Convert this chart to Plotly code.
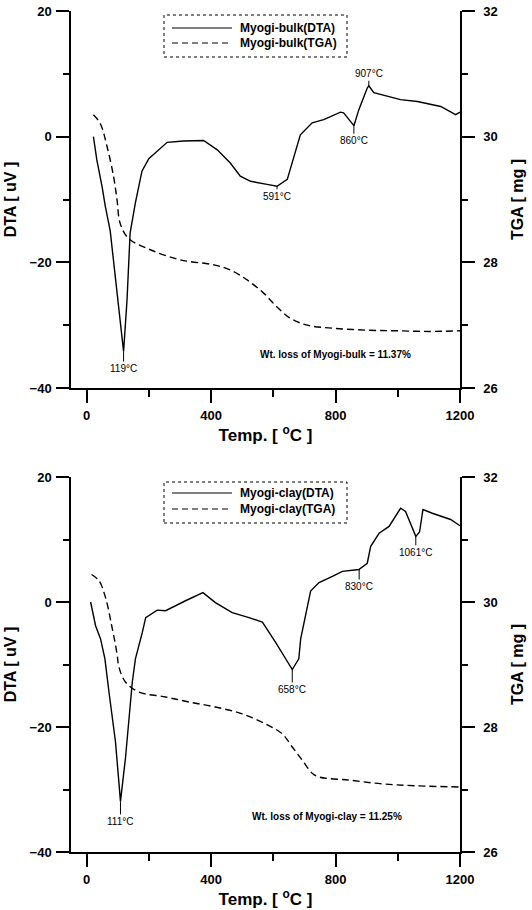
import plotly.graph_objects as go
from plotly.subplots import make_subplots

# ---------------- data ----------------
bulk_dta_T = [22, 33, 50, 60, 76, 98, 110, 119, 130, 140, 157, 178, 200, 226, 259, 312, 376, 420, 462, 494, 527, 580, 612, 645, 687, 725, 762, 816, 826, 859, 875, 902, 907, 923, 1009, 1063, 1106, 1138, 1186, 1200]
bulk_dta_v = [0, -3.7, -8, -11, -15, -24.9, -30, -34.2, -26, -15.3, -10.5, -5.5, -3.5, -2.3, -0.9, -0.7, -0.6, -2.1, -4.2, -6.3, -7.1, -7.6, -7.9, -6.8, 0.3, 2.2, 2.7, 3.9, 3.8, 1.75, 4.3, 7.75, 8.1, 7.0, 5.9, 5.6, 5.1, 4.8, 3.5, 3.9]

bulk_tga_T = [22, 44, 66, 87, 98, 108, 135, 205, 301, 409, 462, 516, 569, 612, 655, 709, 795, 902, 1000, 1100, 1200]
bulk_tga_m = [30.35, 30.21, 29.84, 29.36, 28.99, 28.62, 28.38, 28.2, 28.04, 27.96, 27.88, 27.72, 27.51, 27.29, 27.11, 27.0, 26.95, 26.92, 26.91, 26.9, 26.91]

clay_dta_T = [13, 29, 45, 59, 72, 93, 109, 125, 147, 157, 179, 190, 227, 254, 318, 374, 414, 468, 522, 565, 608, 640, 661, 682, 688, 720, 747, 790, 822, 875, 902, 913, 940, 972, 1009, 1025, 1058, 1070, 1081, 1111, 1143, 1170, 1194, 1200]
clay_dta_v = [0, -3.8, -5.9, -9.1, -14.4, -22.4, -31.9, -25, -12.8, -9.1, -4.9, -2.5, -1.3, -1.4, 0.2, 1.5, -0.1, -1.7, -2.5, -3.2, -6.5, -9, -10.8, -9.1, -5.9, 1.75, 3.1, 4.1, 4.9, 5.2, 6.2, 8.9, 11, 12.1, 15, 14.5, 10.5, 11.2, 14.8, 14.2, 13.6, 13.2, 12.4, 12.2]

clay_tga_T = [16, 40, 61, 82, 98, 104, 125, 168, 254, 329, 414, 500, 575, 629, 661, 693, 725, 747, 843, 950, 1058, 1200]
clay_tga_m = [30.44, 30.34, 30.07, 29.59, 29.17, 28.96, 28.72, 28.56, 28.48, 28.4, 28.32, 28.21, 28.05, 27.89, 27.68, 27.47, 27.26, 27.2, 27.15, 27.09, 27.06, 27.04]

bulk_names = ["Myogi-bulk(DTA)", "Myogi-bulk(TGA)"]
clay_names = ["Myogi-clay(DTA)", "Myogi-clay(TGA)"]

# peak labels: (label, T, value, y-offset px)
bulk_peaks = [("119°C", 119, -34.2, 17), ("591°C", 612, -7.9, 10), ("860°C", 859, 1.75, 15), ("907°C", 907, 8.1, -12)]
clay_peaks = [("111°C", 109, -31.9, 20), ("658°C", 661, -10.8, 20), ("830°C", 876, 5.2, 17), ("1061°C", 1058, 10.5, 16)]

bulk_loss = "Wt. loss of Myogi-bulk = 11.37%"
clay_loss = "Wt. loss of Myogi-clay = 11.25%"
bulk_loss_pos = (800, -34.6)
clay_loss_pos = (772, -34.3)

x_range = [-50, 1200]
dta_range = [-40, 20]
tga_range = [26, 32]

FONT = "Liberation Sans, Arial, sans-serif"
W, H = 532, 910
ML, MR, MT, MB = 71, 72, 11, 58
PW = W - ML - MR
PH = H - MT - MB

def px(xp):
    return (xp - ML) / PW

def py(yp):
    return 1 - (yp - MT) / PH

top_dom = [py(388), 1.0]
bot_dom = [0.0, py(477)]

fig = make_subplots(rows=2, cols=1, specs=[[{"secondary_y": True}], [{"secondary_y": True}]])

line_style = dict(color="black", width=1.4)
dash_style = dict(color="black", width=1.4, dash="7px,4px")

fig.add_trace(go.Scatter(x=bulk_dta_T, y=bulk_dta_v, mode="lines", line=line_style, name=bulk_names[0]), row=1, col=1, secondary_y=False)
fig.add_trace(go.Scatter(x=bulk_tga_T, y=bulk_tga_m, mode="lines", line=dash_style, line_shape="spline", name=bulk_names[1]), row=1, col=1, secondary_y=True)
fig.add_trace(go.Scatter(x=clay_dta_T, y=clay_dta_v, mode="lines", line=line_style, name=clay_names[0]), row=2, col=1, secondary_y=False)
fig.add_trace(go.Scatter(x=clay_tga_T, y=clay_tga_m, mode="lines", line=dash_style, line_shape="spline", name=clay_names[1]), row=2, col=1, secondary_y=True)

tickfont = dict(family=FONT, size=13, color="black", weight="bold")
titlefont_y = dict(family=FONT, size=16, color="black", weight="bold")
titlefont_x = dict(family=FONT, size=17, color="black", weight="bold")

common = dict(showline=True, linecolor="black", linewidth=1.5, showgrid=False, zeroline=False,
              ticks="outside", ticklen=13, tickwidth=1.5, tickcolor="black", tickfont=tickfont,
              automargin=False)

for xa in ["xaxis", "xaxis2"]:
    fig.layout[xa].update(range=x_range, tick0=0, dtick=400, domain=[0, 1],
                          minor=dict(dtick=200, tick0=0, ticks="outside", ticklen=7, tickcolor="black", tickwidth=1.5),
                          title=dict(text="Temp. [ <sup>o</sup>C ]", font=titlefont_x, standoff=3),
                          ticklabelstandoff=2, **common)

for ya, dom in [("yaxis", top_dom), ("yaxis3", bot_dom)]:
    fig.layout[ya].update(range=dta_range, dtick=20, tick0=0, domain=dom,
                          minor=dict(dtick=10, tick0=0, ticks="outside", ticklen=6, tickcolor="black", tickwidth=1.5),
                          title=dict(text="DTA [ uV ]", font=titlefont_y, standoff=9),
                          ticklabelstandoff=2, **common)

for ya in ["yaxis2", "yaxis4"]:
    fig.layout[ya].update(range=tga_range, dtick=2, tick0=0,
                          minor=dict(dtick=1, tick0=0, ticks="outside", ticklen=6, tickcolor="black", tickwidth=1.5),
                          title=dict(text="TGA [ mg ]", font=titlefont_y, standoff=15),
                          ticklabelstandoff=6, **common)

annots = []
ann_font = dict(family=FONT, size=10, color="black")
for (xr, yr, peaks, loss, lpos) in [("x", "y", bulk_peaks, bulk_loss, bulk_loss_pos),
                                     ("x2", "y3", clay_peaks, clay_loss, clay_loss_pos)]:
    for lab, t, v, off in peaks:
        annots.append(dict(x=t, y=v, xref=xr, yref=yr, text=lab, showarrow=True, arrowhead=0,
                           arrowwidth=1, arrowcolor="black", ax=0, ay=off, font=ann_font))
    annots.append(dict(x=lpos[0], y=lpos[1], xref=xr, yref=yr, text=loss, showarrow=False,
                       font=dict(family=FONT, size=10, color="black", weight="bold")))

# manual legends
shapes = []
leg_font = dict(family=FONT, size=12, color="black", weight="bold")
for names, (ytop, ybot, y1, y2) in [(bulk_names, (15, 57, 28, 43)), (clay_names, (482, 523, 493, 509))]:
    shapes.append(dict(type="rect", xref="paper", yref="paper", x0=px(164), x1=px(347), y0=py(ybot), y1=py(ytop),
                       line=dict(color="black", width=1, dash="dot"), fillcolor="white", layer="below"))
    shapes.append(dict(type="line", xref="paper", yref="paper", x0=px(172), x1=px(232), y0=py(y1), y1=py(y1),
                       line=dict(color="black", width=1.2)))
    shapes.append(dict(type="line", xref="paper", yref="paper", x0=px(172), x1=px(232), y0=py(y2), y1=py(y2),
                       line=dict(color="black", width=1.2, dash="6px,4px")))
    for nm, yy in zip(names, (y1, y2)):
        annots.append(dict(x=px(238), y=py(yy), xref="paper", yref="paper", text=nm, showarrow=False,
                           xanchor="left", yanchor="middle", font=leg_font))

fig.update_layout(width=W, height=H, margin=dict(l=ML, r=MR, t=MT, b=MB, autoexpand=False),
                  paper_bgcolor="white", plot_bgcolor="white", showlegend=False,
                  annotations=annots, shapes=shapes)

fig.write_html("out.html")
